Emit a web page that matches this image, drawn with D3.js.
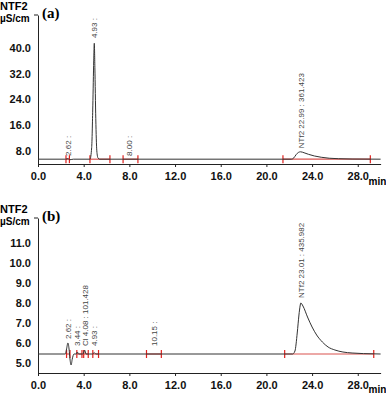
<!DOCTYPE html>
<html>
<head>
<meta charset="utf-8">
<script src="https://cdn.jsdelivr.net/npm/d3@7"></script>
<style>
  body { margin: 0; background: #fff; }
  svg { display: block; }
  .tick text { font-family: "Liberation Sans", Arial, sans-serif; font-weight: bold; font-size: 11px; fill: #111; }
  .tick line, .domain { stroke: #222; }
</style>
</head>
<body>
<svg id="chart" width="386" height="394"></svg>
<script>
// Chromatogram traces (time in min, conductivity in µS/cm)
const timeA = [0, 2.4, 2.55, 2.65, 2.75, 2.9, 3.1, 4.55, 4.7, 4.8, 4.88, 4.93, 4.98, 5.06, 5.15, 5.25, 5.4, 22.2, 22.4, 22.6, 22.8, 22.99, 23.3, 23.7, 24.2, 24.8, 25.5, 26.3, 27.5, 30];
const signalA = [5.4, 5.4, 5.5, 5.6, 5.2, 5.3, 5.4, 5.4, 9, 22, 36, 41.5, 34, 18, 8, 5.8, 5.4, 5.4, 5.8, 6.8, 7.5, 7.7, 7.4, 6.9, 6.4, 6.0, 5.7, 5.55, 5.45, 5.4];
const timeB = [0, 2.4, 2.5, 2.62, 2.72, 2.8, 2.9, 3.0, 3.15, 3.35, 3.44, 3.55, 3.95, 4.08, 4.2, 4.8, 4.93, 5.05, 22.3, 22.5, 22.7, 22.85, 22.95, 23.01, 23.2, 23.6, 24.0, 24.4, 24.9, 25.4, 26.0, 26.7, 27.5, 28.5, 30];
const signalB = [5.45, 5.45, 5.7, 6.0, 5.7, 5.2, 4.9, 5.2, 5.45, 5.45, 5.55, 5.45, 5.45, 5.65, 5.45, 5.45, 5.52, 5.45, 5.45, 5.6, 6.5, 7.4, 7.85, 8.0, 7.85, 7.3, 6.8, 6.4, 6.05, 5.8, 5.65, 5.55, 5.5, 5.47, 5.45];

// Integration windows (start, end) in min
const windowsA = [[2.45, 2.75], [4.55, 6.3], [7.45, 8.75], [21.45, 29.1]];
const windowsB = [[2.5, 2.8], [3.4, 3.85], [4.0, 4.4], [4.8, 5.3], [9.5, 10.8], [21.6, 29.4]];

// Peak labels
const peakTimesA = [2.62, 4.93, 8.00, 22.99];
const peakTextA = ["2.62 :", "4.93 :", "8.00 :", "NTf2 22.99 : 361.423"];
const peakLevelA = [5.8, 42.5, 5.8, 8.2];
const peakTimesB = [2.62, 3.44, 4.08, 4.93, 10.15, 23.01];
const peakTextB = ["2.62 :", "3.44 :", "Cl 4.08 : 101.428", "4.93 :", "10.15 :", "NTf2 23.01 : 435.982"];
const peakLevelB = [6.1, 5.75, 5.75, 5.75, 5.75, 8.15];

const xTicks = [0, 4, 8, 12, 16, 20, 24, 28];
const yTicksA = [8, 16, 24, 32, 40];
const yTicksB = [5, 6, 7, 8, 9, 10, 11];

const svg = d3.select('#chart');

function drawPanel(cfg) {
    const x = d3.scaleLinear().domain([0, 30]).range([38, 380.6]);
    const y = d3.scaleLinear().domain(cfg.yDomain).range([cfg.bottom, cfg.top]);
    const g = svg.append('g');

    // axes
    const xAxis = d3.axisBottom(x).tickValues(xTicks).tickFormat(d3.format('.1f')).tickSize(3).tickSizeOuter(0);
    g.append('g').attr('transform', `translate(0,${cfg.bottom})`).call(xAxis)
        .call(s => s.selectAll('text').attr('dy', '0.95em'));
    const yAxis = d3.axisLeft(y).tickValues(cfg.yTicks).tickFormat(d3.format('.1f')).tickSize(0).tickPadding(7).tickSizeOuter(0);
    g.append('g').attr('transform', 'translate(38,0)').call(yAxis);
    g.append('line').attr('x1', 34).attr('x2', 38).attr('y1', cfg.top).attr('y2', cfg.top).attr('stroke', '#222');

    // integration windows
    const base = y(cfg.baseline);
    cfg.windows.forEach(w => {
        g.append('line').attr('x1', x(w[0])).attr('x2', x(w[1])).attr('y1', base).attr('y2', base)
            .attr('stroke', '#d9534f').attr('stroke-width', 1.2);
        w.forEach(t => {
            g.append('line').attr('x1', x(t)).attr('x2', x(t)).attr('y1', base - 4).attr('y2', base + 4)
                .attr('stroke', '#e0201c').attr('stroke-width', 1.2);
        });
    });

    // trace
    const pts = cfg.times.map((t, i) => [t, cfg.signal[i]]);
    g.append('path').datum(pts)
        .attr('fill', 'none').attr('stroke', '#333').attr('stroke-width', 1)
        .attr('d', d3.line().x(d => x(d[0])).y(d => y(d[1])).curve(d3.curveMonotoneX));

    // peak labels
    cfg.peakTimes.forEach((t, i) => {
        g.append('text')
            .attr('transform', `translate(${x(t) + 3},${y(cfg.peakLevel[i]) - 2}) rotate(-90)`)
            .attr('font-family', 'Liberation Sans, Arial, sans-serif')
            .attr('font-size', 8).attr('fill', '#444')
            .text(cfg.peakText[i]);
    });

    // labels
    g.append('text').attr('x', 0).attr('y', cfg.top - 5)
        .attr('font-family', 'Liberation Sans, Arial, sans-serif').attr('font-weight', 'bold').attr('font-size', 11)
        .text('NTF2');
    g.append('text').attr('x', 0).attr('y', cfg.top + 7)
        .attr('font-family', 'Liberation Sans, Arial, sans-serif').attr('font-weight', 'bold').attr('font-size', 10)
        .text('µS/cm');
    g.append('text').attr('x', 42).attr('y', cfg.top + 3)
        .attr('font-family', 'Liberation Serif, Times New Roman, serif').attr('font-weight', 'bold').attr('font-size', 15)
        .text(cfg.tag);
    g.append('text').attr('x', 368.5).attr('y', cfg.bottom + cfg.minDy)
        .attr('font-family', 'Liberation Sans, Arial, sans-serif').attr('font-weight', 'bold').attr('font-size', 10)
        .text('min');
}

drawPanel({
    tag: '(a)', top: 15, bottom: 164, yDomain: [3.9, 50.3], yTicks: yTicksA, baseline: 5.4, minDy: 21,
    times: timeA, signal: signalA, windows: windowsA,
    peakTimes: peakTimesA, peakText: peakTextA, peakLevel: peakLevelA
});
drawPanel({
    tag: '(b)', top: 218, bottom: 373, yDomain: [4.5, 12.25], yTicks: yTicksB, baseline: 5.45, minDy: 20,
    times: timeB, signal: signalB, windows: windowsB,
    peakTimes: peakTimesB, peakText: peakTextB, peakLevel: peakLevelB
});
</script>
</body>
</html>
